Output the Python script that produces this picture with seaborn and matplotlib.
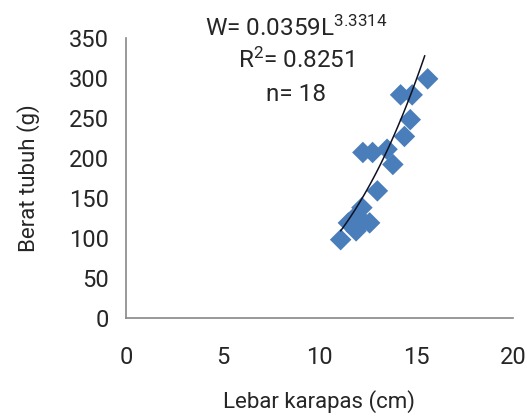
import numpy as np
import pandas as pd
import matplotlib
matplotlib.use('Agg')
import matplotlib.pyplot as plt
import seaborn as sns

# data
lebar = [11.1, 11.5, 11.9, 11.9, 12.2, 12.25, 12.6, 12.0, 13.0,
         12.25, 12.75, 13.5, 13.8, 14.4, 14.7, 14.2, 14.8, 15.6]
berat = [98, 119, 109, 128, 138, 121, 119, 115, 159,
         207, 207, 211, 192, 227, 248, 279, 279, 299]

# power trendline W = a L^b
a_coef = 0.0359
b_coef = 3.3314
r2 = 0.8251
line_range = [11.1, 15.45]

df = pd.DataFrame({'Lebar': lebar, 'Berat': berat})

sns.set_style('white')
plt.rcParams['font.family'] = ['Roboto', 'DejaVu Sans']
plt.rcParams['mathtext.fontset'] = 'custom'
plt.rcParams['mathtext.rm'] = 'Roboto'
plt.rcParams['mathtext.it'] = 'Roboto'

fig = plt.figure(figsize=(5.27, 4.18), dpi=100)
ax = fig.add_axes([0.239, 0.239, 0.734, 0.67])

sns.scatterplot(data=df, x='Lebar', y='Berat', marker='D', s=120,
                color='#4a7ebb', edgecolor='none', ax=ax, zorder=2)

xs = np.linspace(line_range[0], line_range[1], 100)
trend = pd.DataFrame({'x': xs, 'y': a_coef * xs ** b_coef})
sns.lineplot(data=trend, x='x', y='y', color='#111122', lw=1.1, ax=ax, zorder=3)

ax.set_xlim(0, 20)
ax.set_ylim(0, 350)
ax.set_xticks([0, 5, 10, 15, 20])
ax.set_yticks(range(0, 351, 50))
ax.tick_params(axis='both', labelsize=17, length=7, width=1, color='#888888',
               direction='out')
ax.tick_params(axis='y', pad=5)
ax.tick_params(axis='x', pad=13)
for sp in ['top', 'right']:
    ax.spines[sp].set_visible(False)
for sp in ['left', 'bottom']:
    ax.spines[sp].set_color('#888888')
    ax.spines[sp].set_linewidth(1.2)

ax.set_xlabel('Lebar karapas (cm)', fontsize=16, labelpad=15)
ax.set_ylabel('Berat tubuh (g)', fontsize=16, labelpad=21)

ax.text(0.44, 1.035, 'W= 0.0359L$^{3.3314}$', transform=ax.transAxes,
        ha='center', va='center', fontsize=17.5)
ax.text(0.44, 0.92, 'R$^{2}$= 0.8251', transform=ax.transAxes,
        ha='center', va='center', fontsize=17.5)
ax.text(0.44, 0.80, 'n= 18', transform=ax.transAxes,
        ha='center', va='center', fontsize=17.5)

fig.savefig('out.png', dpi=100)
